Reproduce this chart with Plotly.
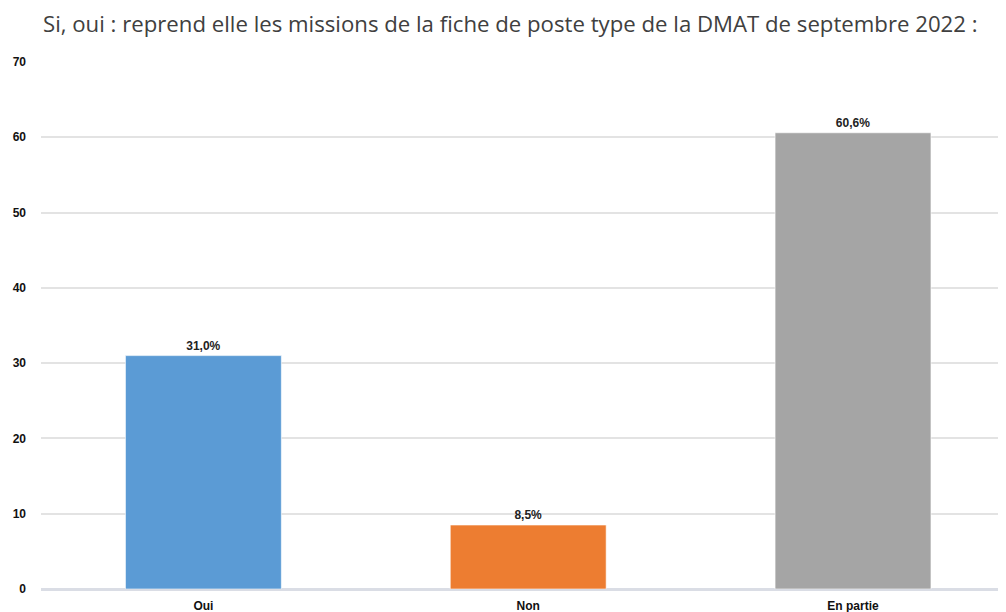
import plotly.graph_objects as go

categories = ["Oui", "Non", "En partie"]
values = [31.0, 8.5, 60.6]
labels = ["31,0%", "8,5%", "60,6%"]
colors = ["#5B9BD5", "#ED7D31", "#A5A5A5"]
title = "Si, oui : reprend elle les missions de la fiche de poste type de la DMAT de septembre 2022 :"

fig = go.Figure(go.Bar(
    x=categories, y=values, text=labels, textposition="outside",
    textfont=dict(family="Liberation Sans, Arial", size=12, color="#222222", weight="bold"),
    marker=dict(color=colors, line=dict(color="rgba(255,255,255,0.6)", width=1)),
    width=0.48, cliponaxis=False,
))

# page has an 8px body margin, so the figure is sized/offset to compensate
fig.update_layout(
    width=998, height=604,
    margin=dict(l=33, r=0, t=54, b=23),
    paper_bgcolor="white", plot_bgcolor="white",
    showlegend=False,
    title=dict(text=title, x=35 / 998, xanchor="left", y=1 - 16 / 604, yanchor="middle",
               font=dict(family="Open Sans", size=22.2, color="#404040")),
    xaxis=dict(range=[-0.5, 2.471], showgrid=False, showline=False, zeroline=False,
               tickfont=dict(family="Liberation Sans, Arial", size=12, color="#111111", weight="bold"),
               ticks="", ticklabelstandoff=8),
    yaxis=dict(range=[0, 70], dtick=10, showgrid=True, gridcolor="#e3e3e3", gridwidth=2,
               zeroline=True, zerolinecolor="#dadde5", zerolinewidth=3, showline=False,
               tickfont=dict(family="Liberation Sans, Arial", size=12, color="#111111", weight="bold"),
               ticks="", ticklabelstandoff=14),
)

fig.write_html("out.html")
